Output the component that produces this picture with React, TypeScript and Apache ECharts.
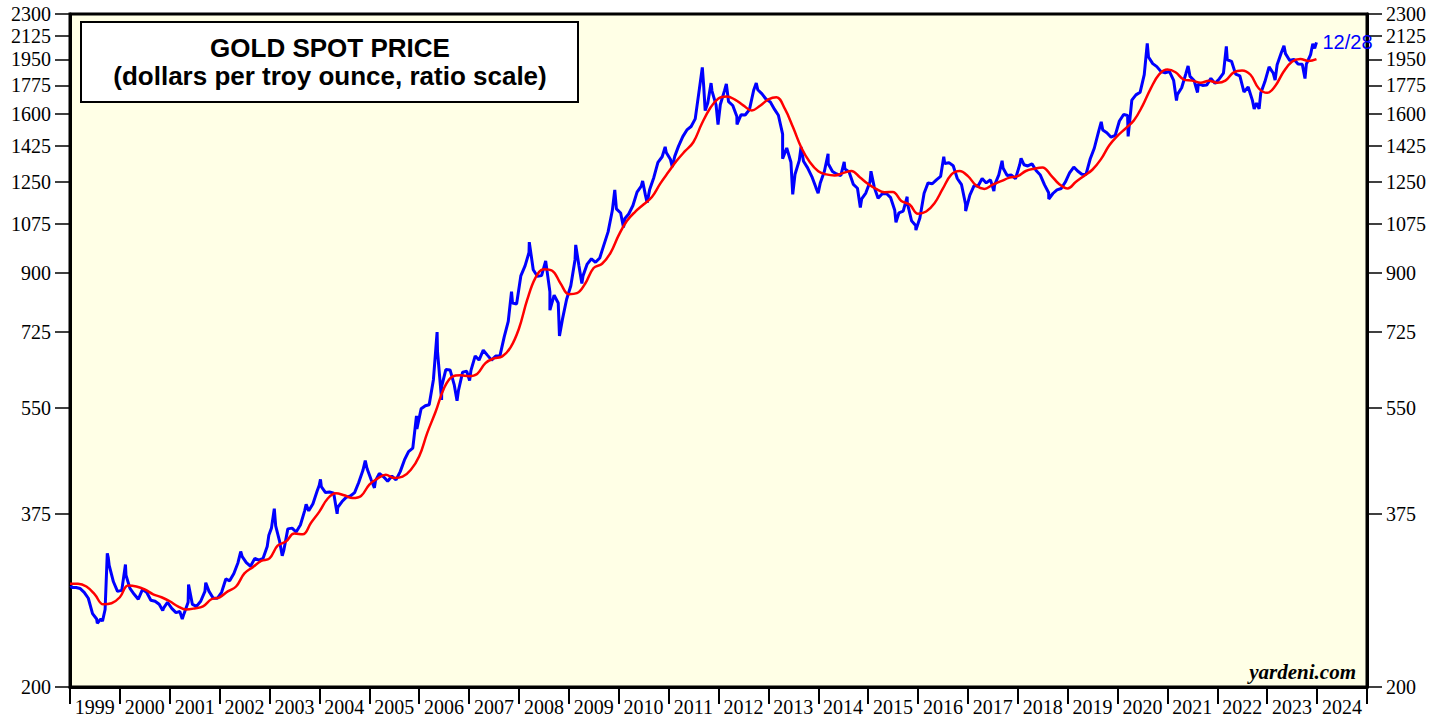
import React, { useEffect, useRef } from "react";
import * as echarts from "echarts";

// Monthly gold spot price readings (dollars per troy ounce), Jan..Dec, 1999..2023
const firstYear = 1999;
const goldMonthly: number[][] = [
  [287, 287, 286, 282, 276, 261, 256, 256, 265, 311, 293, 283], // 1999
  [284, 300, 286, 280, 275, 285, 282, 274, 273, 270, 266, 272], // 2000
  [266, 262, 263, 261, 272, 270, 268, 273, 283, 283, 276, 276], // 2001
  [282, 296, 294, 302, 314, 321, 314, 310, 319, 317, 319, 333], // 2002
  [356, 359, 340, 328, 355, 356, 351, 360, 379, 379, 389, 407], // 2003
  [414, 405, 406, 404, 384, 392, 398, 400, 405, 420, 439, 442], // 2004
  [424, 423, 434, 429, 422, 430, 424, 437, 456, 470, 476, 510], // 2005
  [549, 555, 557, 610, 676, 596, 633, 632, 598, 586, 627, 629], // 2006
  [631, 665, 655, 679, 667, 655, 665, 665, 712, 754, 806, 803], // 2007
  [889, 922, 968, 909, 888, 890, 939, 839, 829, 806, 760, 816], // 2008
  [858, 943, 924, 890, 928, 946, 934, 949, 996, 1043, 1127, 1134], // 2009
  [1117, 1095, 1113, 1148, 1205, 1232, 1193, 1215, 1271, 1342, 1370, 1391], // 2010
  [1356, 1372, 1424, 1474, 1510, 1529, 1572, 1756, 1772, 1665, 1739, 1652], // 2011
  [1656, 1743, 1674, 1650, 1585, 1596, 1594, 1626, 1744, 1747, 1721, 1688], // 2012
  [1671, 1627, 1593, 1487, 1414, 1343, 1286, 1352, 1348, 1316, 1275, 1225], // 2013
  [1244, 1300, 1336, 1299, 1287, 1279, 1311, 1296, 1239, 1222, 1176, 1201], // 2014
  [1251, 1227, 1179, 1198, 1199, 1181, 1128, 1118, 1125, 1159, 1086, 1068], // 2015
  [1097, 1200, 1246, 1242, 1260, 1276, 1337, 1341, 1326, 1266, 1238, 1152], // 2016
  [1192, 1234, 1231, 1266, 1246, 1260, 1236, 1283, 1315, 1280, 1282, 1265], // 2017
  [1331, 1331, 1325, 1335, 1303, 1282, 1238, 1202, 1199, 1215, 1221, 1250], // 2018
  [1292, 1320, 1301, 1286, 1284, 1359, 1413, 1500, 1510, 1495, 1471, 1480], // 2019
  [1560, 1597, 1591, 1683, 1715, 1732, 1846, 1968, 1921, 1900, 1866, 1858], // 2020
  [1867, 1808, 1718, 1760, 1850, 1834, 1807, 1785, 1775, 1777, 1821, 1788], // 2021
  [1817, 1856, 1948, 1937, 1849, 1837, 1733, 1765, 1681, 1665, 1726, 1798], // 2022
  [1898, 1855, 1913, 2000, 1992, 1943, 1951, 1918, 1916, 1917, 1985, 2030], // 2023
];

// Weekly highs / lows visible in the chart
const goldWeeklyExtremes: [string, number][] = [
  ["1999-01-08", 289], ["1999-07-20", 252], ["1999-08-27", 254], ["1999-10-01", 325], ["1999-10-08", 320],
  ["2000-02-11", 312], ["2000-11-10", 264],
  ["2001-04-02", 256], ["2001-05-18", 290], ["2001-09-21", 292],
  ["2002-06-04", 327], ["2002-12-27", 347],
  ["2003-02-05", 382], ["2003-04-04", 322], ["2003-09-26", 388], ["2003-12-31", 416],
  ["2004-01-09", 425], ["2004-05-10", 375], ["2004-12-02", 455],
  ["2005-02-07", 412], ["2005-12-12", 535],
  ["2006-05-12", 725], ["2006-06-14", 567], ["2006-10-05", 565],
  ["2007-01-05", 608], ["2007-11-08", 840],
  ["2008-03-17", 1005], ["2008-08-15", 785], ["2008-10-24", 715],
  ["2009-02-20", 995], ["2009-04-06", 865], ["2009-12-03", 1215],
  ["2010-02-05", 1060], ["2010-06-25", 1255], ["2010-07-28", 1160], ["2010-12-07", 1420],
  ["2011-01-28", 1320], ["2011-09-05", 1895], ["2011-09-26", 1620], ["2011-11-08", 1790], ["2011-12-29", 1540],
  ["2012-02-28", 1785], ["2012-05-16", 1540], ["2012-10-04", 1790],
  ["2013-04-15", 1360], ["2013-06-28", 1195], ["2013-08-28", 1420], ["2013-12-31", 1200],
  ["2014-03-14", 1385], ["2014-07-10", 1345], ["2014-11-05", 1140],
  ["2015-01-22", 1300], ["2015-07-24", 1080], ["2015-10-14", 1185], ["2015-12-17", 1050],
  ["2016-07-08", 1370], ["2016-12-15", 1125],
  ["2017-07-10", 1210], ["2017-09-08", 1350],
  ["2018-01-25", 1362], ["2018-08-16", 1175],
  ["2019-09-04", 1555],
  ["2020-03-19", 1475], ["2020-08-06", 2067],
  ["2021-03-08", 1680], ["2021-06-01", 1905], ["2021-08-09", 1730],
  ["2022-03-08", 2045], ["2022-09-28", 1630], ["2022-11-03", 1630],
  ["2023-02-28", 1810], ["2023-05-04", 2050], ["2023-10-05", 1820], ["2023-12-01", 2065], ["2023-12-28", 2075],
];

// 26-week moving average (red line)
const movingAverage: [string, number][] = [
  ["1999-01-01", 291], ["1999-03-01", 291], ["1999-05-01", 288], ["1999-07-01", 280], ["1999-09-01", 270], ["1999-11-01", 271],
  ["2000-01-01", 277], ["2000-03-01", 289], ["2000-05-01", 288], ["2000-07-01", 285], ["2000-09-01", 280], ["2000-11-01", 277],
  ["2001-01-01", 273], ["2001-03-01", 268], ["2001-05-01", 265], ["2001-07-01", 266], ["2001-09-01", 268], ["2001-11-01", 275],
  ["2002-01-01", 277], ["2002-03-01", 283], ["2002-05-01", 288], ["2002-07-01", 302], ["2002-09-01", 309], ["2002-11-01", 316],
  ["2003-01-01", 319], ["2003-03-01", 334], ["2003-05-01", 339], ["2003-07-01", 349], ["2003-09-01", 348], ["2003-11-01", 363],
  ["2004-01-01", 378], ["2004-03-01", 396], ["2004-05-01", 404], ["2004-07-01", 401], ["2004-09-01", 397], ["2004-11-01", 400],
  ["2005-01-01", 417], ["2005-03-01", 426], ["2005-05-01", 432], ["2005-07-01", 427], ["2005-09-01", 429], ["2005-11-01", 440],
  ["2006-01-01", 462], ["2006-03-01", 503], ["2006-05-01", 543], ["2006-07-01", 591], ["2006-09-01", 617], ["2006-11-01", 620],
  ["2007-01-01", 618], ["2007-03-01", 623], ["2007-05-01", 648], ["2007-07-01", 659], ["2007-09-01", 664], ["2007-11-01", 686],
  ["2008-01-01", 734], ["2008-03-01", 814], ["2008-05-01", 883], ["2008-07-01", 911], ["2008-09-01", 906], ["2008-11-01", 865],
  ["2009-01-01", 832], ["2009-03-01", 835], ["2009-05-01", 865], ["2009-07-01", 915], ["2009-09-01", 929], ["2009-11-01", 966],
  ["2010-01-01", 1031], ["2010-03-01", 1085], ["2010-05-01", 1122], ["2010-07-01", 1152], ["2010-09-01", 1184], ["2010-11-01", 1243],
  ["2011-01-01", 1297], ["2011-03-01", 1350], ["2011-05-01", 1398], ["2011-07-01", 1444], ["2011-09-01", 1544], ["2011-11-01", 1634],
  ["2012-01-01", 1693], ["2012-03-01", 1705], ["2012-05-01", 1686], ["2012-07-01", 1651], ["2012-09-01", 1621], ["2012-11-01", 1649],
  ["2013-01-01", 1687], ["2013-03-01", 1700], ["2013-05-01", 1631], ["2013-07-01", 1523], ["2013-09-01", 1413], ["2013-11-01", 1343],
  ["2014-01-01", 1300], ["2014-03-01", 1285], ["2014-05-01", 1280], ["2014-07-01", 1291], ["2014-09-01", 1301], ["2014-11-01", 1272],
  ["2015-01-01", 1241], ["2015-03-01", 1219], ["2015-05-01", 1205], ["2015-07-01", 1206], ["2015-09-01", 1167], ["2015-11-01", 1152],
  ["2016-01-01", 1114], ["2016-03-01", 1123], ["2016-05-01", 1157], ["2016-07-01", 1220], ["2016-09-01", 1284], ["2016-11-01", 1301],
  ["2017-01-01", 1277], ["2017-03-01", 1235], ["2017-05-01", 1219], ["2017-07-01", 1238], ["2017-09-01", 1254], ["2017-11-01", 1270],
  ["2018-01-01", 1277], ["2018-03-01", 1301], ["2018-05-01", 1312], ["2018-07-01", 1318], ["2018-09-01", 1281], ["2018-11-01", 1240],
  ["2019-01-01", 1221], ["2019-03-01", 1250], ["2019-05-01", 1278], ["2019-07-01", 1307], ["2019-09-01", 1357], ["2019-11-01", 1427],
  ["2020-01-01", 1478], ["2020-03-01", 1519], ["2020-05-01", 1564], ["2020-07-01", 1646], ["2020-09-01", 1756], ["2020-11-01", 1847],
  ["2021-01-01", 1880], ["2021-03-01", 1862], ["2021-05-01", 1813], ["2021-07-01", 1806], ["2021-09-01", 1792], ["2021-11-01", 1805],
  ["2022-01-01", 1792], ["2022-03-01", 1806], ["2022-05-01", 1861], ["2022-07-01", 1874], ["2022-09-01", 1845], ["2022-11-01", 1755],
  ["2023-01-01", 1728], ["2023-03-01", 1771], ["2023-05-01", 1865], ["2023-07-01", 1934], ["2023-09-01", 1953], ["2023-11-01", 1940],
  ["2023-12-28", 1953],
];

const yTickValues = [200, 375, 550, 725, 900, 1075, 1250, 1425, 1600, 1775, 1950, 2125, 2300];
const xYears = Array.from({ length: 26 }, (_, i) => 1999 + i);
const lastLabel = "12/28";
const titleLine1 = "GOLD SPOT PRICE";
const titleLine2 = "(dollars per troy ounce, ratio scale)";
const sourceText = "yardeni.com";

const toTime = (s: string) => {
  const [y, m, d] = s.split("-").map(Number);
  return new Date(y, m - 1, d).getTime();
};

export default function App() {
  const ref = useRef<HTMLDivElement>(null);

  useEffect(() => {
    if (!ref.current) return;
    const chart = echarts.init(ref.current, undefined, { renderer: "svg" });

    const pts: [number, number][] = [];
    goldMonthly.forEach((row, yi) => {
      row.forEach((v, mi) => pts.push([new Date(firstYear + yi, mi, 15).getTime(), v]));
    });
    goldWeeklyExtremes.forEach(([d, v]) => pts.push([toTime(d), v]));
    pts.sort((a, b) => a[0] - b[0]);
    const goldData = pts.map(([t, v]) => [t, Math.log10(v)]);
    const maData = movingAverage.map(([d, v]) => [toTime(d), Math.log10(v)]);

    const serif = "Liberation Serif";
    const sans = "Liberation Sans";
    const yLog = yTickValues.map((v) => Math.log10(v));

    const yAxisBase = (position: "left" | "right") => ({
      type: "value" as const,
      position,
      min: Math.log10(200),
      max: Math.log10(2300),
      axisLine: { show: true, lineStyle: { color: "#000", width: 3 } },
      axisTick: {
        show: true,
        inside: false,
        length: 15,
        lineStyle: { color: "#000", width: 1.5 },
        customValues: yLog,
      },
      axisLabel: {
        show: true,
        margin: 19,
        color: "#000",
        fontFamily: serif,
        fontSize: 20,
        customValues: yLog,
        formatter: (v: number) => String(Math.round(Math.pow(10, v))),
      },
      splitLine: { show: false },
    });

    chart.setOption({
      animation: false,
      backgroundColor: "#fff",
      textStyle: { fontFamily: serif },
      grid: {
        left: 70,
        right: 81,
        top: 14,
        bottom: 32,
        show: true,
        backgroundColor: "#FFFFE6",
        borderColor: "#000",
        borderWidth: 3,
      },
      xAxis: {
        type: "value",
        min: new Date(1999, 0, 1).getTime(),
        max: new Date(2025, 0, 1).getTime(),
        axisLine: { show: true, onZero: false, lineStyle: { color: "#000", width: 3 } },
        axisTick: {
          show: true,
          inside: false,
          length: 17,
          lineStyle: { color: "#000", width: 2 },
          customValues: [...xYears, 2025].map((y) => new Date(y, 0, 1).getTime()),
        },
        axisLabel: {
          show: true,
          margin: 10,
          color: "#000",
          fontFamily: serif,
          fontSize: 20,
          customValues: xYears.map((y) => new Date(y, 6, 2).getTime()),
          formatter: (v: number) => String(new Date(v).getFullYear()),
        },
        splitLine: { show: false },
      },
      yAxis: [yAxisBase("left"), yAxisBase("right")],
      series: [
        {
          type: "line",
          name: "Gold",
          data: goldData,
          showSymbol: false,
          lineStyle: { color: "#0000FF", width: 3 },
          itemStyle: { color: "#0000FF" },
          endLabel: {
            show: true,
            formatter: () => lastLabel,
            color: "#0000FF",
            fontFamily: sans,
            fontSize: 20,
            distance: 6,
          },
          z: 3,
        },
        {
          type: "line",
          name: "26-week MA",
          data: maData,
          showSymbol: false,
          smooth: 0.4,
          lineStyle: { color: "#FF0000", width: 2.5 },
          itemStyle: { color: "#FF0000" },
          z: 4,
        },
      ],
      graphic: [
        {
          type: "rect",
          shape: { x: 81, y: 22, width: 497, height: 80 },
          style: { fill: "#fff", stroke: "#000", lineWidth: 2 },
          z: 10,
        },
        {
          type: "text",
          x: 330,
          y: 48,
          style: {
            text: titleLine1,
            fontFamily: sans,
            fontWeight: "bold",
            fontSize: 26,
            fill: "#000",
            align: "center",
            verticalAlign: "middle",
          },
          z: 11,
        },
        {
          type: "text",
          x: 330,
          y: 76,
          style: {
            text: titleLine2,
            fontFamily: sans,
            fontWeight: "bold",
            fontSize: 26,
            fill: "#000",
            align: "center",
            verticalAlign: "middle",
          },
          z: 11,
        },
        {
          type: "text",
          x: 1356,
          y: 672,
          style: {
            text: sourceText,
            fontFamily: serif,
            fontWeight: "bold",
            fontStyle: "italic",
            fontSize: 21,
            fill: "#000",
            align: "right",
            verticalAlign: "middle",
          },
          z: 11,
        },
      ],
    });

    return () => chart.dispose();
  }, []);

  return (
    <div
      ref={ref}
      style={{ position: "fixed", left: 0, top: 0, width: 1448, height: 719 }}
    />
  );
}
